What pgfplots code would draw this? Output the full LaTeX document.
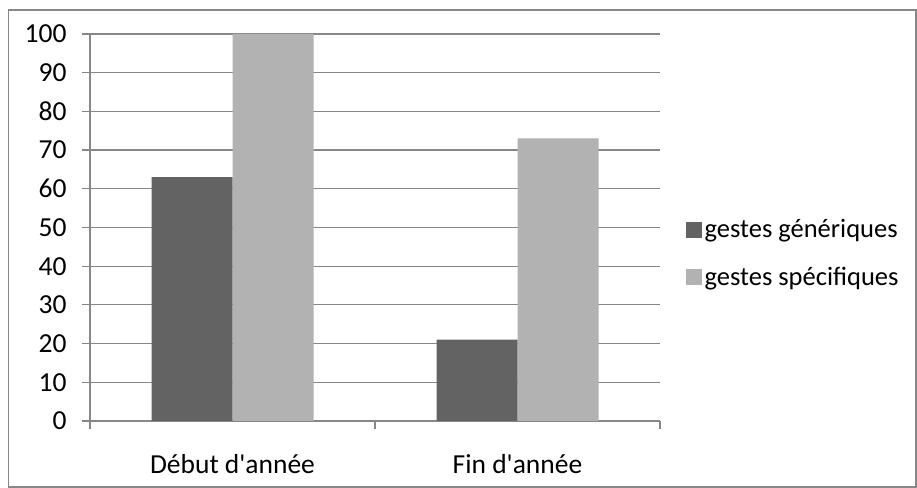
\documentclass[border=0pt]{standalone}
\usepackage{fontspec}
\setmainfont{Carlito}
\usepackage{pgfplots}
\pgfplotsset{compat=1.18}
\definecolor{darkbar}{HTML}{636363}
\definecolor{lightbar}{HTML}{B2B2B2}
\definecolor{gridc}{HTML}{878787}
\begin{document}
\begin{tikzpicture}
\useasboundingbox (0,0) rectangle (917bp,488bp);
\fill[white] (0,0) rectangle (917bp,488bp);
\draw[gridc, line width=1.2bp] (8.5bp,1bp) rectangle (916bp,478bp);
\begin{axis}[
  at={(90bp,67bp)}, anchor=south west, scale only axis,
  width=570bp, height=387bp,
  ybar=0pt, bar width=81bp,
  xmin=-0.5, xmax=1.5, ymin=0, ymax=100,
  ytick={0,10,...,100},
  xtick={-0.5,0.5,1.5},
  xticklabels={D\'ebut d\textquotesingle ann\'ee, Fin d\textquotesingle ann\'ee},
  x tick label as interval,
  axis x line*=bottom, axis y line*=left,
  ymajorgrids, grid style={gridc, line width=1.2bp},
  axis line style={gridc, line width=1.2bp},
  tick style={gridc, line width=1.2bp},
  tick align=outside, major tick length=8bp,
  /pgf/number format/assume math mode=true,
  tick label style={font=\fontsize{27.5bp}{32bp}\selectfont, text=black},
  yticklabel style={anchor=east, xshift=-12bp},
  xticklabel style={yshift=-22bp},
  legend style={draw=none, fill=none, at={(1,0.5)}, anchor=west,
    xshift=23bp, yshift=-26bp, font=\fontsize{26.5bp}{31bp}\selectfont,
    row sep=23bp, nodes={inner sep=2.5bp}},
  legend cell align=left,
  legend image code/.code={\fill[#1] (0bp,-8bp) rectangle (16bp,8bp);},
]
\addplot[fill=darkbar, draw=none] coordinates {(0,63) (1,21)};
\addplot[fill=lightbar, draw=none] coordinates {(0,100) (1,73)};
\legend{gestes génériques, gestes spécifiques}
\end{axis}
\end{tikzpicture}
\end{document}
